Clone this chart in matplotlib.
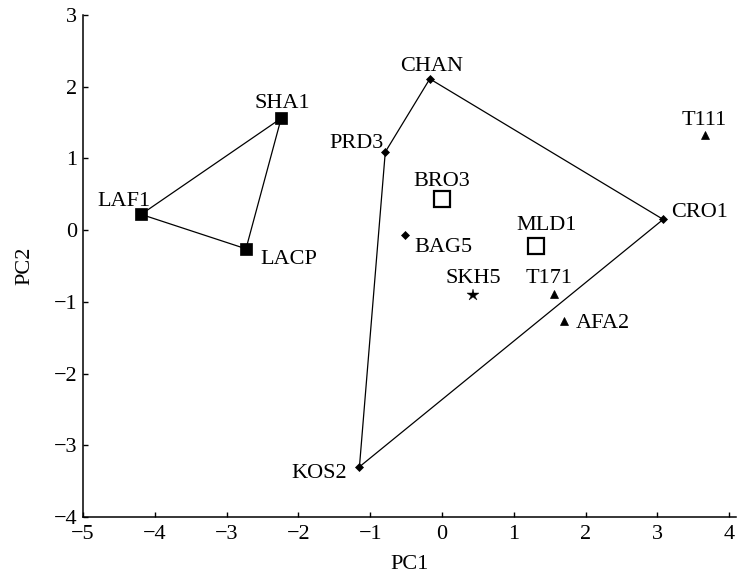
import matplotlib
matplotlib.use("Agg")
import matplotlib.pyplot as plt

plt.rcParams['font.family'] = ['Liberation Serif', 'DejaVu Serif']
plt.rcParams['axes.unicode_minus'] = True

# ---- data ----
sites = ["SHA1", "LAF1", "LACP", "CHAN", "PRD3", "CRO1", "KOS2", "BAG5",
         "BRO3", "MLD1", "SKH5", "T111", "T171", "AFA2"]
pc1 = [-2.24, -4.19, -2.73, -0.17, -0.79, 3.08, -1.15, -0.52,
       0.00, 1.31, 0.43, 3.66, 1.56, 1.70]
pc2 = [1.56, 0.22, -0.26, 2.11, 1.09, 0.15, -3.30, -0.07,
       0.44, -0.22, -0.90, 1.33, -0.89, -1.26]
group = ["sq", "sq", "sq", "dm", "dm", "dm", "dm", "dm",
         "osq", "osq", "star", "tri", "tri", "tri"]
hull_a = ["LAF1", "SHA1", "LACP", "LAF1"]
hull_b = ["PRD3", "CHAN", "CRO1", "KOS2", "PRD3"]

x_ticks = [-5, -4, -3, -2, -1, 0, 1, 2, 3, 4]
y_ticks = [-4, -3, -2, -1, 0, 1, 2, 3]

# ---- styles ----
PX = 72 / 100.0  # pixels -> points at dpi 100
FS = 16
styles = {
    "sq": dict(marker="s", ms=8, mfc="black", mec="black", mew=0.5),
    "dm": dict(marker="D", ms=4, mfc="black", mec="black", mew=0.5),
    "osq": dict(marker="s", ms=11, mfc="white", mec="black", mew=1.6),
    "star": dict(marker="*", ms=9, mfc="black", mec="black", mew=0.3),
    "tri": dict(marker="^", ms=5.5, mfc="black", mec="black", mew=0.5),
}
# label placement: (ha, dx_px, dy_px) relative to marker, baseline aligned
label_pos = {
    "SHA1": ("center", 1, 10), "LAF1": ("right", 9, 8), "LACP": ("left", 14, -15),
    "CHAN": ("center", 2, 8), "PRD3": ("right", -2, 4), "CRO1": ("left", 8, 2),
    "KOS2": ("right", -12, -11), "BAG5": ("left", 10, -17), "BRO3": ("center", 0, 13),
    "MLD1": ("center", 10, 16), "SKH5": ("center", 0, 12), "T111": ("center", -1, 10),
    "T171": ("center", -5, 11), "AFA2": ("left", 12, -7),
}

fig = plt.figure(figsize=(7.39, 5.78), dpi=100)
ax = fig.add_axes([0.1123, 0.1055, 0.8842, 0.8685])

idx = {s: i for i, s in enumerate(sites)}
for hull in (hull_a, hull_b):
    ax.plot([pc1[idx[s]] for s in hull], [pc2[idx[s]] for s in hull],
            color="black", lw=0.9, zorder=1)

for i, s in enumerate(sites):
    ax.plot(pc1[i], pc2[i], linestyle="none", zorder=3, **styles[group[i]])
    ha, dx, dy = label_pos[s]
    ax.annotate(s, (pc1[i], pc2[i]), xytext=(dx * PX, dy * PX),
                textcoords="offset points", ha=ha, va="baseline",
                fontsize=FS, color="black")

ax.set_xlim(-5, 4.1)
ax.set_ylim(-4, 3)
ax.set_xticks(x_ticks)
ax.set_yticks(y_ticks)
ax.spines["top"].set_visible(False)
ax.spines["right"].set_visible(False)
for sp in ("left", "bottom"):
    ax.spines[sp].set_linewidth(1.1)
ax.tick_params(direction="in", length=3.5, width=1.0, labelsize=FS)
ax.tick_params(axis="x", pad=6)
ax.tick_params(axis="y", pad=4)
ax.set_xlabel("PC1", fontsize=FS, labelpad=8)
ax.set_ylabel("PC2", fontsize=FS, labelpad=14)

fig.savefig("out.png", dpi=100)
